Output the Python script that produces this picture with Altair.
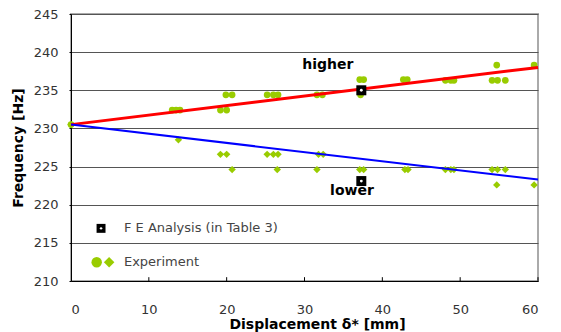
import altair as alt
import pandas as pd

# Experiment points (higher mode, circles)
hi_x = [0, 13.0, 13.5, 14.0, 19.2, 20.0, 19.9, 20.7, 25.2, 26.0, 26.6, 31.6, 32.3,
        37.1, 37.6, 37.2, 42.7, 43.2, 48.1, 48.8, 49.2, 54.7, 54.1, 54.8, 55.8, 59.5]
hi_y = [230.5, 232.4, 232.4, 232.4, 232.4, 232.4, 234.4, 234.4, 234.4, 234.4, 234.4, 234.4, 234.4,
        236.4, 236.4, 234.4, 236.4, 236.4, 236.3, 236.3, 236.3, 238.3, 236.3, 236.3, 236.3, 238.3]
# Experiment points (lower mode, diamonds)
lo_x = [0, 13.8, 19.2, 20.0, 20.7, 25.2, 26.0, 26.6, 26.5, 31.8, 32.4, 31.6,
        37.1, 37.6, 42.9, 43.3, 48.1, 48.8, 49.2, 54.1, 54.8, 55.8, 54.7, 59.5]
lo_y = [230.5, 228.5, 226.6, 226.6, 224.6, 226.6, 226.6, 226.6, 224.6, 226.6, 226.6, 224.6,
        224.6, 224.6, 224.6, 224.6, 224.6, 224.6, 224.6, 224.6, 224.6, 224.6, 222.6, 222.6]
# FE analysis (Table 3)
fe_x = [37.3, 37.3]
fe_y = [235.0, 223.1]
# Trend lines
line_x = [0, 60]
red_y = [230.5, 238.0]
blue_y = [230.5, 223.3]
# Labels
lab_text = ["higher", "lower"]
lab_x = [33.0, 36.1]
lab_y = [238.3, 221.8]
# Legend
leg_text = ["F E Analysis (in Table 3)", "Experiment"]
leg_x = [6.8, 6.8]
leg_y = [216.9, 212.45]
x_ticks = [10, 20, 30, 40, 50, 60]
x_labels = [0, 10, 20, 30, 40, 50, 60]
y_labels = [210, 215, 220, 225, 230, 235, 240, 245]

GREEN = "#99cc00"
FONT = "DejaVu Sans"

xs = alt.Scale(domain=[0, 60], nice=False)
ys = alt.Scale(domain=[210, 245], nice=False)

xax = alt.Axis(title="Displacement  δ* [mm]", values=x_labels, grid=False,
               ticks=False, domainColor="black", labelFont=FONT, labelFontSize=13,
               labelColor="#333333", labelPadding=22, labelOverlap=False, titleFont=FONT,
               titleFontSize=14, titleFontWeight="bold", titleColor="black",
               titlePadding=1, titleX=246)
yax = alt.Axis(title="Frequency [Hz]", values=y_labels, grid=True, labelOverlap=False,
               gridColor="#555555", gridWidth=1, domainColor="black", tickColor="black",
               tickSize=2, labelFont=FONT, labelFontSize=13, labelColor="#333333",
               labelPadding=11, titleFont=FONT, titleFontSize=14, titleFontWeight="bold",
               titleColor="black", titlePadding=8)


def X(f="x"):
    return alt.X(f"{f}:Q", scale=xs, axis=xax)


def Y(f="y"):
    return alt.Y(f"{f}:Q", scale=ys, axis=yax)


hi = pd.DataFrame({"x": hi_x, "y": hi_y})
lo = pd.DataFrame({"x": lo_x, "y": lo_y})
fe = pd.DataFrame({"x": fe_x, "y": fe_y})
ln = pd.DataFrame({"x": line_x, "r": red_y, "b": blue_y})
lab = pd.DataFrame({"t": lab_text, "x": lab_x, "y": lab_y})
leg = pd.DataFrame({"t": leg_text, "x": leg_x, "y": leg_y})
tk = pd.DataFrame({"x": x_ticks, "y": [210] * len(x_ticks), "y2": [210.5] * len(x_ticks)})

base_hi = alt.Chart(hi).mark_circle(size=45, color=GREEN, opacity=1).encode(x=X(), y=Y())
base_lo = alt.Chart(lo).mark_point(shape="diamond", size=55, filled=True, color=GREEN,
                                   opacity=1).encode(x=X(), y=Y())
red = alt.Chart(ln).mark_line(color="#ff0000", strokeWidth=3).encode(x=X(), y=Y("r"))
blue = alt.Chart(ln).mark_line(color="#0000ff", strokeWidth=2).encode(x=X(), y=Y("b"))
fe_sq = alt.Chart(fe).mark_point(shape="square", size=100, filled=True, color="black",
                                 opacity=1).encode(x=X(), y=Y())
fe_dot = alt.Chart(fe).mark_circle(size=8, color="white", opacity=1).encode(x=X(), y=Y())
labels = alt.Chart(lab).mark_text(font=FONT, fontSize=14, fontWeight="bold",
                                  color="black").encode(x=X(), y=Y(), text="t:N")
leg_txt = alt.Chart(leg).mark_text(font=FONT, fontSize=13, color="#444444",
                                   align="left").encode(x=X(), y=Y(), text="t:N")
leg_sq = alt.Chart(pd.DataFrame({"x": [3.86], "y": [216.9]})).mark_point(
    shape="square", size=80, filled=True, color="black", opacity=1).encode(x=X(), y=Y())
leg_dot = alt.Chart(pd.DataFrame({"x": [3.86], "y": [216.9]})).mark_circle(
    size=6, color="white", opacity=1).encode(x=X(), y=Y())
leg_c = alt.Chart(pd.DataFrame({"x": [3.3], "y": [212.45]})).mark_circle(
    size=110, color=GREEN, opacity=1).encode(x=X(), y=Y())
leg_d = alt.Chart(pd.DataFrame({"x": [4.9], "y": [212.45]})).mark_point(
    shape="diamond", size=110, filled=True, color=GREEN, opacity=1).encode(x=X(), y=Y())
ticks = alt.Chart(tk).mark_rule(color="black", strokeWidth=1).encode(
    x=X(), y=Y(), y2="y2:Q")

chart = alt.layer(base_hi, base_lo, red, blue, fe_sq, fe_dot, labels,
                  leg_sq, leg_dot, leg_c, leg_d, leg_txt, ticks).properties(
    width=467, height=267,
    autosize=alt.AutoSizeParams(type="none"),
    padding={"left": 71, "top": 14, "right": 23, "bottom": 51},
    background="white",
).configure_view(stroke="#aaaaaa", strokeWidth=2)

chart.save("out.html", embed_options={"renderer": "svg", "actions": False})
